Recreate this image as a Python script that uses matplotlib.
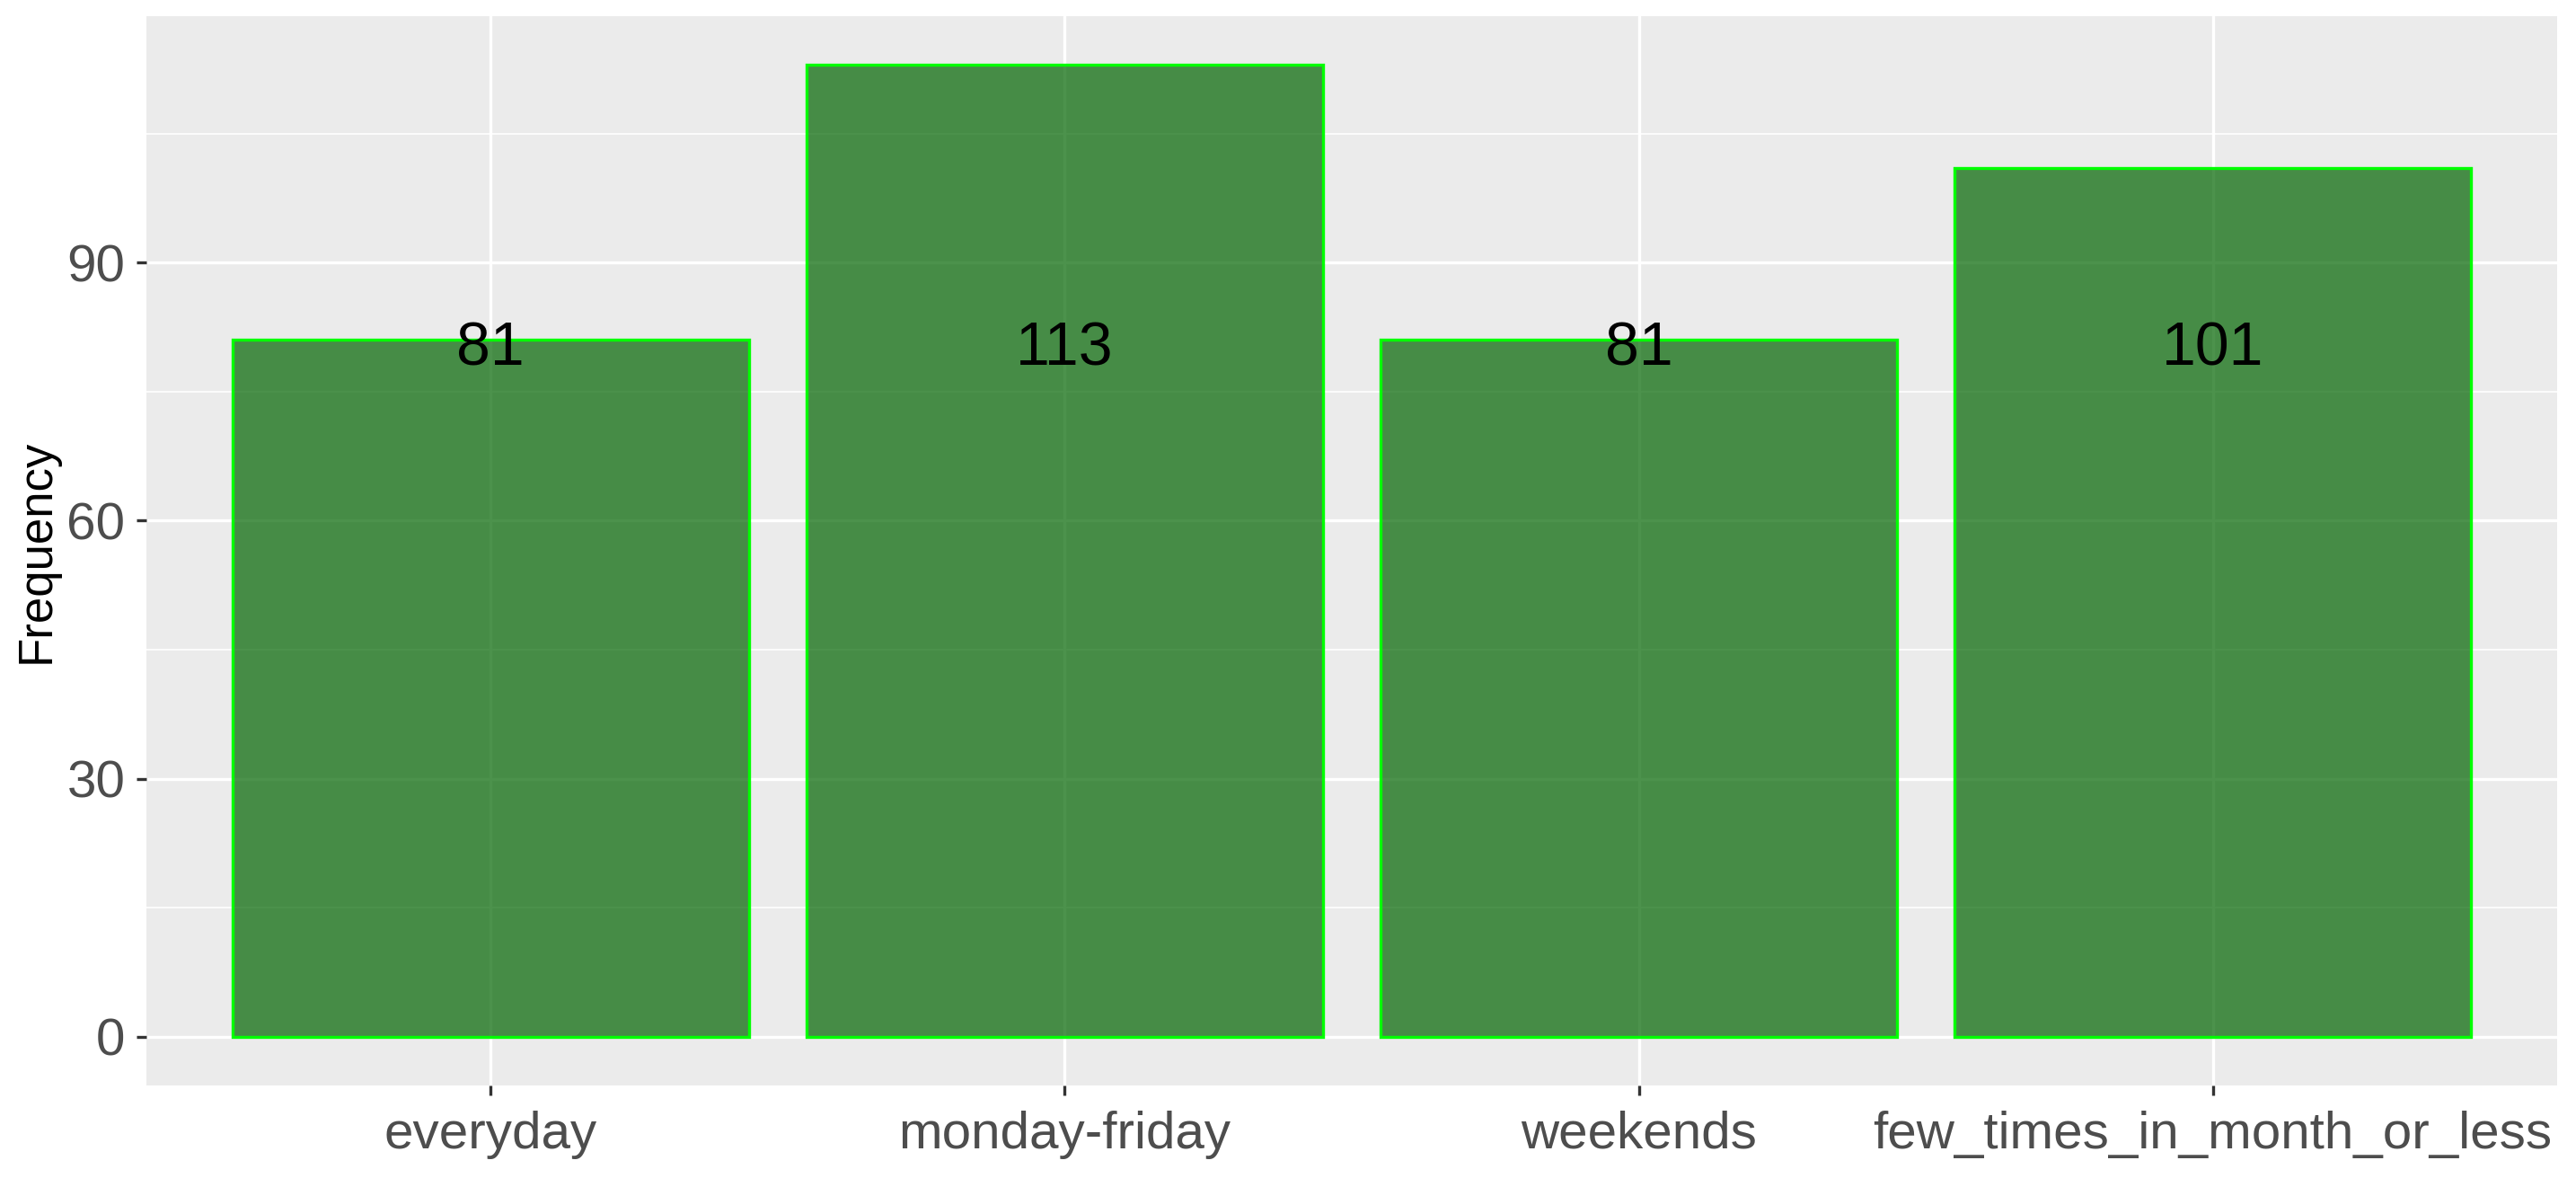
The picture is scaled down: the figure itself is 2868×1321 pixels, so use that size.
import matplotlib
matplotlib.use('Agg')
from matplotlib import pyplot as plt
from matplotlib.ticker import MultipleLocator

categories = ['everyday', 'monday-friday', 'weekends', 'few_times_in_month_or_less']
counts = [81, 113, 81, 101]
label_y = [81, 81, 81, 81]
y_ticks = [0, 30, 60, 90]

plt.rcParams['font.family'] = ['Liberation Sans', 'DejaVu Sans']

fig = plt.figure(figsize=(14.34, 6.605), dpi=200)
ax = fig.add_axes([0.0568, 0.0855, 0.9359, 0.9009])
ax.set_facecolor('#EBEBEB')

x = list(range(1, len(categories) + 1))
ax.bar(x, counts, width=0.9, color=(0.0, 100/255, 0.0, 0.7),
       edgecolor='#00FF00', linewidth=1.2, zorder=3)

for xi, yi, c in zip(x, label_y, counts):
    ax.annotate(str(c), (xi, yi), xytext=(0, -3.5), textcoords='offset points',
                ha='center', va='center', fontsize=24.5, color='black', zorder=4)

ax.set_xlim(0.4, 4.6)
ax.set_ylim(-0.05 * max(counts), 1.05 * max(counts))
ax.set_xticks(x)
ax.set_xticklabels(categories)
ax.set_yticks(y_ticks)
ax.yaxis.set_minor_locator(MultipleLocator(15))

ax.grid(which='major', color='white', linewidth=1.2, zorder=0)
ax.grid(which='minor', axis='y', color='white', linewidth=0.6, zorder=0)
ax.set_axisbelow(True)
for s in ax.spines.values():
    s.set_visible(False)

ax.tick_params(axis='both', which='major', length=4, width=1.2, color='#333333',
               labelcolor='#4D4D4D', labelsize=21)
ax.tick_params(axis='x', pad=6)
ax.tick_params(axis='y', pad=4.5)
ax.tick_params(which='minor', length=0)

ax.set_ylabel('Frequency', fontsize=19, color='black', labelpad=3)

fig.savefig('out.png', dpi=200)
